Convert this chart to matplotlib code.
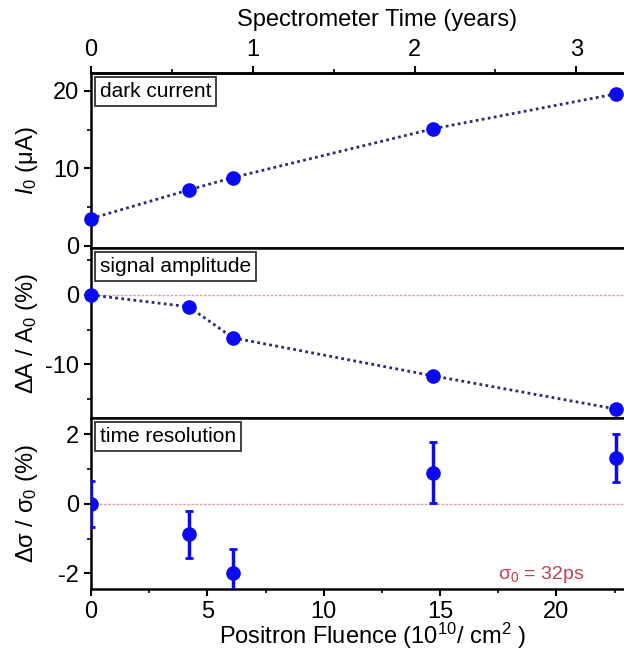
import matplotlib
matplotlib.use("Agg")
import matplotlib.pyplot as plt
from matplotlib.ticker import MultipleLocator, FixedLocator

plt.rcParams["font.family"] = ["Liberation Sans", "DejaVu Sans"]
plt.rcParams["mathtext.fontset"] = "custom"
plt.rcParams["mathtext.rm"] = "Liberation Sans"
plt.rcParams["mathtext.it"] = "Liberation Sans:italic"
plt.rcParams["axes.unicode_minus"] = False

# datos
fluence = [0, 4.2, 6.1, 14.7, 22.55]
dark_current = [3.5, 7.2, 8.8, 15.1, 19.6]
amp_change = [0, -1.7, -6.2, -11.7, -16.5]
res_change = [0, -0.88, -1.99, 0.9, 1.32]
res_err = [0.66, 0.67, 0.7, 0.88, 0.68]
fluence_per_year = 6.95
years_ticks = [0, 1, 2, 3]

azul = "#0a0af0"
linea = "#2b2b78"
rojo = "#c04050"

fig = plt.figure(figsize=(6.24, 6.57), dpi=100)
ax1 = fig.add_axes([0.1458, 0.6225, 0.8542, 0.2664])
ax2 = fig.add_axes([0.1458, 0.3638, 0.8542, 0.2587])
ax3 = fig.add_axes([0.1458, 0.1035, 0.8542, 0.2603])

for ax in (ax1, ax2, ax3):
    ax.set_xlim(0, 22.9)
    ax.spines["right"].set_visible(False)
    for s in ("left", "top", "bottom"):
        ax.spines[s].set_linewidth(1.8)
    ax.tick_params(axis="y", which="major", direction="out", length=5, width=1.5, labelsize=17)
    ax.tick_params(axis="y", which="minor", direction="out", length=3, width=1.2)
    ax.yaxis.set_label_coords(-0.095, 0.5)

# panel 1: corriente oscura
ax1.plot(fluence, dark_current, linestyle=(0, (1, 1.2)), color=linea, lw=2, zorder=2)
ax1.plot(fluence, dark_current, "o", color=azul, ms=9.5, clip_on=False, zorder=3)
ax1.set_ylim(-0.3, 22.3)
ax1.yaxis.set_major_locator(MultipleLocator(10))
ax1.yaxis.set_minor_locator(MultipleLocator(5))
ax1.set_ylabel(r"$I_0$ (μA)", fontsize=17)
ax1.tick_params(axis="x", which="both", bottom=False, labelbottom=False)

top = ax1.secondary_xaxis("top", functions=(lambda f: f / fluence_per_year,
                                            lambda y: y * fluence_per_year))
top.xaxis.set_major_locator(FixedLocator(years_ticks))
top.xaxis.set_minor_locator(FixedLocator([0.5, 1.5, 2.5]))
top.tick_params(which="major", direction="out", length=5, width=1.5, labelsize=17)
top.tick_params(which="minor", direction="out", length=3, width=1.2)
top.spines["top"].set_linewidth(1.8)
# el original esta recortado a la derecha, los titulos quedan corridos
fig.text(377 / 624, 1 - 20 / 657, "Spectrometer Time (years)", fontsize=17,
         ha="center", va="center")

# panel 2: amplitud
ax2.axhline(0, color="#e0a0a8", lw=1, linestyle=(0, (2, 1)), zorder=1)
ax2.plot(fluence, amp_change, linestyle=(0, (1, 1.2)), color=linea, lw=2, zorder=2)
ax2.plot(fluence, amp_change, "o", color=azul, ms=9.5, clip_on=False, zorder=3)
ax2.set_ylim(-17.8, 6.8)
ax2.yaxis.set_major_locator(MultipleLocator(10))
ax2.yaxis.set_minor_locator(MultipleLocator(5))
ax2.set_ylabel(r"ΔA / A$_0$ (%)", fontsize=17)
ax2.tick_params(axis="x", which="both", bottom=False, labelbottom=False)

# panel 3: resolucion temporal
ax3.axhline(0, color="#e0a0a8", lw=1, linestyle=(0, (2, 1)), zorder=1)
ax3.errorbar(fluence, res_change, yerr=res_err, fmt="o", color=azul, ms=9.5,
             elinewidth=2.5, capsize=3, capthick=2, clip_on=True, zorder=3)
ax3.set_ylim(-2.45, 2.47)
ax3.yaxis.set_major_locator(MultipleLocator(2))
ax3.yaxis.set_minor_locator(MultipleLocator(1))
ax3.set_ylabel(r"Δσ / σ$_0$ (%)", fontsize=17)
ax3.xaxis.set_major_locator(MultipleLocator(5))
ax3.xaxis.set_minor_locator(MultipleLocator(2.5))
ax3.tick_params(axis="x", which="major", direction="out", length=5, width=1.5, labelsize=17)
ax3.tick_params(axis="x", which="minor", direction="out", length=3, width=1.2)
fig.text(373 / 624, 1 - 636 / 657, r"Positron Fluence (10$^{10}$/ cm$^{2}$ )",
         fontsize=17, ha="center", va="center")
ax3.text(21.2, -2.03, r"σ$_0$ = 32ps", color=rojo, fontsize=14, ha="right", va="center")

caja = dict(boxstyle="square,pad=0.22", fc="white", ec="#333333", lw=1.3)
for ax, nombre in ((ax1, "dark current"), (ax2, "signal amplitude"), (ax3, "time resolution")):
    ax.annotate(nombre, xy=(0, 1), xycoords="axes fraction", xytext=(9, -9),
                textcoords="offset pixels", fontsize=15, va="top", ha="left",
                bbox=caja, zorder=5)

plt.savefig("out.png", dpi=100)
